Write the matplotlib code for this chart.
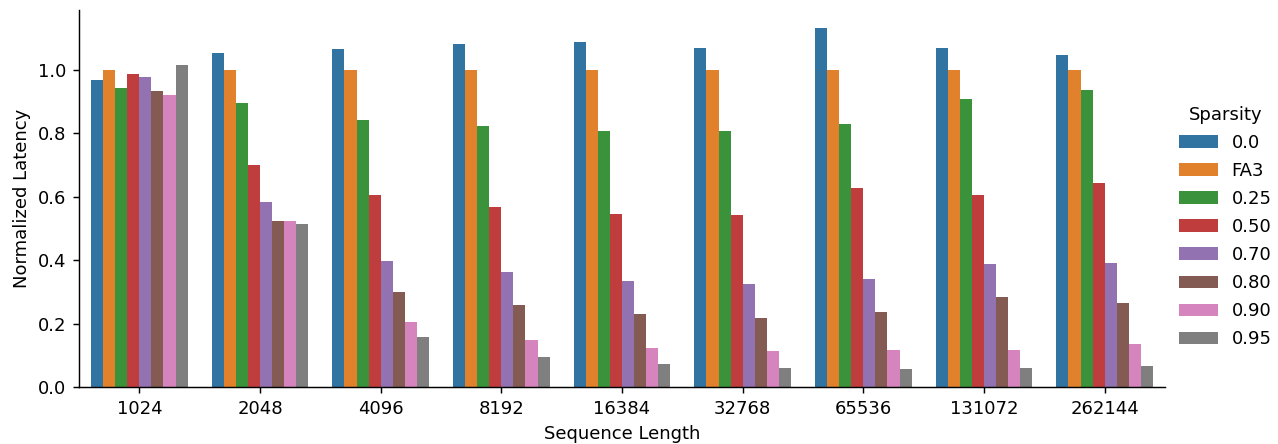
import matplotlib
matplotlib.use("Agg")
import matplotlib.pyplot as plt
import seaborn as sns
import pandas as pd

seq_lengths = ["1024", "2048", "4096", "8192", "16384", "32768", "65536", "131072", "262144"]
sparsity_levels = ["0.0", "FA3", "0.25", "0.50", "0.70", "0.80", "0.90", "0.95"]

lat_00 = [0.969, 1.053, 1.066, 1.082, 1.088, 1.069, 1.132, 1.069, 1.047]
lat_fa3 = [1.0, 1.0, 1.0, 1.0, 1.0, 1.0, 1.0, 1.0, 1.0]
lat_25 = [0.943, 0.896, 0.843, 0.824, 0.808, 0.808, 0.830, 0.909, 0.937]
lat_50 = [0.987, 0.701, 0.604, 0.566, 0.547, 0.541, 0.626, 0.604, 0.642]
lat_70 = [0.978, 0.582, 0.396, 0.362, 0.333, 0.324, 0.340, 0.387, 0.390]
lat_80 = [0.934, 0.522, 0.299, 0.258, 0.230, 0.217, 0.236, 0.283, 0.264]
lat_90 = [0.921, 0.522, 0.204, 0.148, 0.123, 0.113, 0.116, 0.116, 0.135]
lat_95 = [1.016, 0.513, 0.157, 0.094, 0.072, 0.060, 0.057, 0.060, 0.066]

series = [lat_00, lat_fa3, lat_25, lat_50, lat_70, lat_80, lat_90, lat_95]

rows = []
for sp, vals in zip(sparsity_levels, series):
    for sl, v in zip(seq_lengths, vals):
        rows.append({"Sequence Length": sl, "Normalized Latency": v, "Sparsity": sp})
df = pd.DataFrame(rows)

DPI = 130
fig = plt.figure(figsize=(1278 / DPI, 444 / DPI), dpi=DPI)
ax = fig.add_axes([79/1278, 1 - 387/444, (1165 - 79)/1278, (387 - 10)/444])
sns.barplot(data=df, x="Sequence Length", y="Normalized Latency", hue="Sparsity",
            order=seq_lengths, hue_order=sparsity_levels, ax=ax)
for s in ["top", "right"]:
    ax.spines[s].set_visible(False)
ax.set_yticks([0.0, 0.2, 0.4, 0.6, 0.8, 1.0])
ax.set_xlabel("Sequence Length")
ax.set_ylabel("Normalized Latency")
ax.legend_.remove()
handles, labels = ax.get_legend_handles_labels()
fig.legend(handles, labels, title="Sparsity", loc="center left",
           bbox_to_anchor=(1163/1278, 1 - 227/444), frameon=False,
           handlelength=2.15, labelspacing=0.56, handletextpad=0.75)
fig.savefig("out.png", dpi=DPI)
